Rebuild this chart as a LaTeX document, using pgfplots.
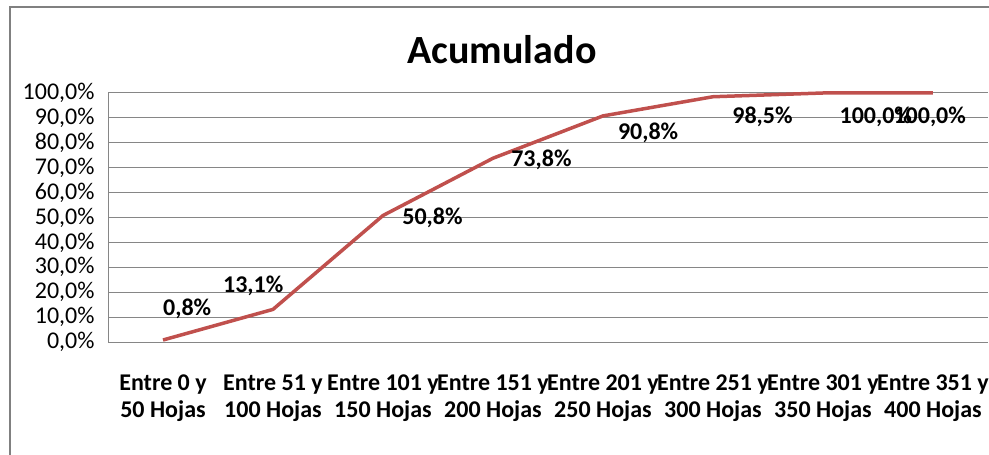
\documentclass[border=0pt]{standalone}
\usepackage{pgfplots}
\pgfplotsset{compat=1.18}
\usepackage{fontspec}
\setmainfont{Carlito}
\definecolor{linered}{RGB}{192,80,77}
\definecolor{gridgray}{RGB}{134,134,134}
\definecolor{framegray}{RGB}{128,128,128}
\newcommand{\lblfont}{\fontsize{24bp}{27bp}\selectfont}
\begin{document}
\begin{tikzpicture}
\useasboundingbox (0bp,0bp) rectangle (989bp,455bp);
\draw[framegray, line width=2bp] (9.5bp,0bp) -- (9.5bp,448bp) -- (989bp,448bp);
\node[font=\fontsize{40bp}{48bp}\selectfont\bfseries, anchor=base] at (502bp,391bp) {Acumulado};
\begin{axis}[
  at={(108bp,113bp)}, anchor=south west,
  scale only axis, width=880bp, height=249bp,
  xmin=-0.5, xmax=7.5, ymin=0, ymax=100,
  clip=false,
  axis x line*=bottom, axis y line*=left,
  axis line style={-, gridgray, line width=1bp},
  ymajorgrids, grid style={gridgray, line width=1bp},
  major tick length=0pt,
  ytick={0,10,...,100},
  yticklabels={{0,0\%},{10,0\%},{20,0\%},{30,0\%},{40,0\%},{50,0\%},{60,0\%},{70,0\%},{80,0\%},{90,0\%},{100,0\%}},
  yticklabel style={font=\lblfont, anchor=east, xshift=-10bp},
  xtick={0,...,7},
  xticklabels={{Entre 0 y\\50 Hojas},{Entre 51 y\\100 Hojas},{Entre 101 y\\150 Hojas},{Entre 151 y\\200 Hojas},{Entre 201 y\\250 Hojas},{Entre 251 y\\300 Hojas},{Entre 301 y\\350 Hojas},{Entre 351 y\\400 Hojas}},
  xticklabel style={font=\lblfont\bfseries, align=center, anchor=north, yshift=-29bp},
]
\addplot[linered, line width=3.5bp, no markers, line join=round] coordinates {
  (0,0.8) (1,13.1) (2,50.8) (3,73.8) (4,90.8) (5,98.5) (6,100) (7,100)
};
\node[font=\lblfont\bfseries] at (axis cs:0.22,13.5) {0,8\%};
\node[font=\lblfont\bfseries] at (axis cs:0.82,22.5) {13,1\%};
\node[font=\lblfont\bfseries] at (axis cs:2.45,49.8) {50,8\%};
\node[font=\lblfont\bfseries] at (axis cs:3.44,73.0) {73,8\%};
\node[font=\lblfont\bfseries] at (axis cs:4.41,84.0) {90,8\%};
\node[font=\lblfont\bfseries] at (axis cs:5.45,90.4) {98,5\%};
\node[font=\lblfont\bfseries] at (axis cs:6.48,90.4) {100,0\%};
\node[font=\lblfont\bfseries] at (axis cs:6.97,90.4) {100,0\%};
\end{axis}
\end{tikzpicture}
\end{document}
